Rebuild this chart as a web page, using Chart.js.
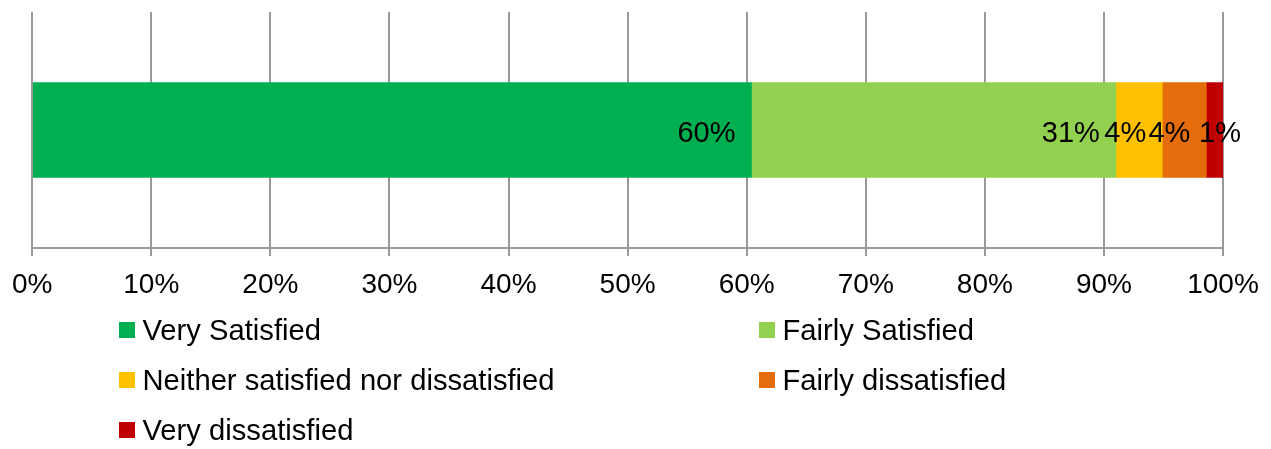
<!DOCTYPE html>
<html><head><meta charset="utf-8">
<script src="https://cdn.jsdelivr.net/npm/chart.js@4/dist/chart.umd.min.js"></script>
<style>html,body{margin:0;padding:0;background:#fff;overflow:hidden;} #wrap{width:1271px;height:449px;position:relative;}</style>
</head><body><div id="wrap"><canvas id="c" width="1271" height="449"></canvas></div>
<script>
// ---- data ----
const categories = ['Satisfaction'];
const seriesNames = ['Very Satisfied', 'Fairly Satisfied', 'Neither satisfied nor dissatisfied', 'Fairly dissatisfied', 'Very dissatisfied'];
const seriesValues = [60.4, 30.6, 3.9, 3.7, 1.4];
const seriesLabels = ['60%', '31%', '4%', '4%', '1%'];
const seriesColors = ['#00B050', '#92D050', '#FFC000', '#E46C0A', '#C00000'];
const tickValues = [0, 10, 20, 30, 40, 50, 60, 70, 80, 90, 100];
const tickLabels = ['0%', '10%', '20%', '30%', '40%', '50%', '60%', '70%', '80%', '90%', '100%'];

const FONT = '"Liberation Sans", Arial, sans-serif';
const GRID = '#9A9A9A';

const datasets = seriesNames.map((n, i) => ({
  label: n,
  data: [seriesValues[i]],
  backgroundColor: seriesColors[i],
  borderWidth: 0,
  barThickness: 95
}));

const valueLabels = {
  id: 'valueLabels',
  afterDatasetsDraw(chart) {
    const ctx = chart.ctx;
    ctx.save();
    ctx.font = '29px ' + FONT;
    ctx.fillStyle = '#000';
    ctx.textBaseline = 'alphabetic';
    chart.data.datasets.forEach((ds, i) => {
      const meta = chart.getDatasetMeta(i);
      const bar = meta.data[0];
      const txt = seriesLabels[i];
      const w = ctx.measureText(txt).width;
      const segW = bar.x - bar.base;
      if (segW < w * 0.6) {
        ctx.textAlign = 'center';
        ctx.fillText(txt, bar.x - 3, bar.y + 11.5);
      } else {
        ctx.textAlign = 'right';
        ctx.fillText(txt, bar.x - 16, bar.y + 11.5);
      }
    });
    ctx.restore();
  }
};

const customLegend = {
  id: 'customLegend',
  afterDraw(chart) {
    const ctx = chart.ctx;
    ctx.save();
    ctx.font = '29.2px ' + FONT;
    ctx.textAlign = 'left';
    ctx.textBaseline = 'alphabetic';
    chart.data.datasets.forEach((ds, i) => {
      const col = i % 2, row = Math.floor(i / 2);
      const mx = 119 + col * 640;
      const base = 340 + row * 50;
      ctx.fillStyle = ds.backgroundColor;
      ctx.fillRect(mx, base - 18, 16, 16);
      ctx.fillStyle = '#000';
      ctx.fillText(ds.label, mx + 23.5, base);
    });
    ctx.restore();
  }
};

new Chart(document.getElementById('c'), {
  type: 'bar',
  data: { labels: categories, datasets },
  options: {
    indexAxis: 'y',
    responsive: false,
    animation: false,
    layout: { padding: { left: 32, right: 48, top: 12, bottom: 141 } },
    plugins: { legend: { display: false }, tooltip: { enabled: false } },
    scales: {
      x: {
        stacked: true,
        min: 0, max: 100,
        afterBuildTicks(scale) { scale.ticks = tickValues.map(v => ({ value: v })); },
        afterFit(scale) { scale.height = 60; },
        ticks: {
          callback: (v) => tickLabels[tickValues.indexOf(v)],
          color: '#000',
          font: { size: 28, family: FONT },
          padding: 12,
          maxRotation: 0,
          autoSkip: false
        },
        grid: { color: GRID, lineWidth: 2, tickLength: 8, drawTicks: true },
        border: { display: true, color: GRID, width: 2 }
      },
      y: {
        stacked: true,
        display: false,
        grid: { display: false }
      }
    }
  },
  plugins: [valueLabels, customLegend]
});
</script>
</body></html>
